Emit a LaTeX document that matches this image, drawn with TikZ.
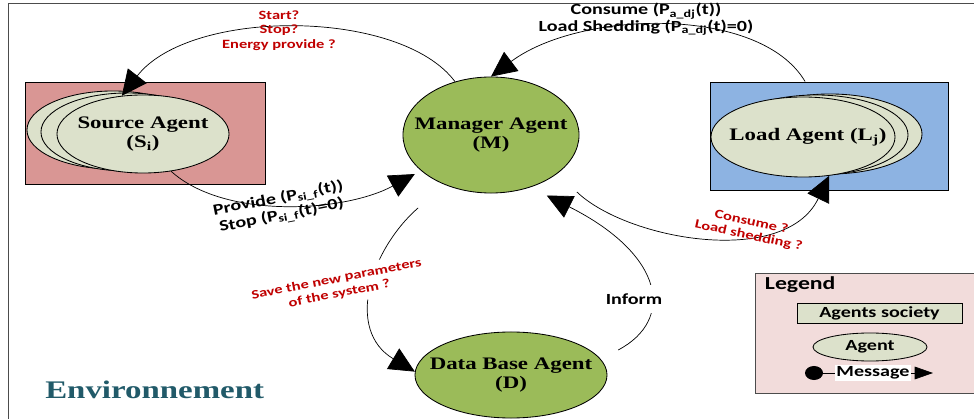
\documentclass[tikz,border=0pt]{standalone}
\usepackage{fontspec}
\setmainfont{Liberation Serif}
\newfontfamily\agentfont{Liberation Serif}[FakeStretch=1.3]
\newfontfamily\msgfont{Carlito}[FakeStretch=1.3]
\usepackage{tikz}
\usetikzlibrary{shapes.geometric,arrows.meta,positioning,calc}

\definecolor{sourcefill}{HTML}{D99694}
\definecolor{loadfill}{HTML}{8DB3E2}
\definecolor{agentfill}{HTML}{DCE1CB}
\definecolor{managerfill}{HTML}{9BBB59}
\definecolor{legendfill}{HTML}{F2DCDB}
\definecolor{askred}{HTML}{C00000}
\definecolor{envteal}{HTML}{215A69}

\begin{document}
\begin{tikzpicture}[x=0.025cm, y=-0.025cm,
    agent/.style={ellipse, draw, line width=0.6pt, fill=agentfill, inner sep=0pt},
    society/.style={rectangle, draw, line width=0.6pt, inner sep=0pt},
    agenttext/.style={font=\agentfont\bfseries\fontsize{12.5}{14}\selectfont, align=center},
    msg/.style={line width=0.5pt, -{Triangle[length=18pt,width=17pt]}},
    ask/.style={font=\msgfont\bfseries\fontsize{9}{10.3}\selectfont, text=askred, align=center, inner sep=1pt},
    reply/.style={font=\msgfont\bfseries\fontsize{11}{12.5}\selectfont, align=center, inner sep=1pt},
    legendtext/.style={font=\msgfont\bfseries\fontsize{11}{13}\selectfont}]
    \useasboundingbox (0,0) rectangle (974,419);

    % environment frame
    \draw[gray!60!black, line width=0.6pt] (8,419) -- (8,3) -- (974,3);
    \node[font=\agentfont\bfseries\fontsize{18}{20}\selectfont, text=envteal, anchor=west, inner sep=0pt] (env) at (45,390) {Environnement};

    % source agents society
    \node[society, fill=sourcefill, minimum width=6cm, minimum height=2.55cm] (SB) at (145,133) {};
    \node[agent, minimum width=4.3cm, minimum height=1.95cm] (S3) at (113,130) {};
    \node[agent, minimum width=4.3cm, minimum height=1.95cm] (S2) at (127,132) {};
    \node[agent, minimum width=4.3cm, minimum height=1.95cm] (S) at (143,134) {};
    \node[agenttext] (Stext) at (S) {Source Agent\\(S\textsubscript{i})};

    % manager agent
    \node[agent, fill=managerfill, minimum width=4.4cm, minimum height=2.9cm] (M) at (491,135) {};
    \node[agenttext] (Mtext) at (M) {Manager Agent\\(M)};

    % load agents society
    \node[society, fill=loadfill, minimum width=5.95cm, minimum height=2.7cm] (LB) at (829,136) {};
    \node[agent, minimum width=4.6cm, minimum height=2cm] (L3) at (830,134) {};
    \node[agent, minimum width=4.6cm, minimum height=2cm] (L2) at (816,135) {};
    \node[agent, minimum width=4.6cm, minimum height=2cm] (L) at (803,137) {};
    \node[agenttext] (Ltext) at (808,137) {Load Agent (L\textsubscript{j})};

    % data base agent
    \node[agent, fill=managerfill, minimum width=4.8cm, minimum height=2.15cm] (D) at (511,375) {};
    \node[agenttext] (Dtext) at (D) {Data Base Agent\\(D)};

    % manager <-> source
    \draw[msg] (M.124) .. controls (400,8) and (190,8) .. (S.119);
    \node[ask] (qS) at (279,30.5) {Start?\\Stop?\\Energy provide ?};
    \draw[msg, shorten >=5pt] (S.-53) .. controls (225,220) and (345,212) .. (M.207);
    \node[reply, rotate=11] (rS) at (280,207.5) {Provide (P\textsubscript{si\_f}(t))\\Stop (P\textsubscript{si\_f}(t)=0)};

    % manager <-> load
    \draw[msg] ($(LB.north west)!0.4!(LB.north east)$) .. controls (760,5) and (580,10) .. (M.north);
    \node[reply, font=\msgfont\bfseries\fontsize{11}{12}\selectfont] (rL) at (646,19.5) {Consume (P\textsubscript{a\_dj}(t))\\Load Shedding (P\textsubscript{a\_dj}(t)=0)};
    \draw[msg, shorten <=19pt] (M.-30) .. controls (627,240) and (785,268) .. (L.-56);
    \node[ask, font=\msgfont\bfseries\fontsize{9}{10}\selectfont, rotate=-12] (qL) at (750,229) {Consume ?\\Load shedding ?};

    % manager <-> data base
    \draw[msg, shorten <=25pt] (M.227) .. controls (370,250) and (345,330) .. (D.178);
    \node[ask, font=\msgfont\bfseries\fontsize{9}{10.6}\selectfont, rotate=11, fill=white, inner ysep=4pt] (qD) at (338,286.5) {Save the new parameters\\of the system ?};
    \draw[msg, shorten <=14pt, shorten >=13pt] (D.10) .. controls (675,320) and (665,255) .. (M.-53);
    \node[reply, fill=white, inner ysep=6pt] (rD) at (634,299) {Inform};

    % legend
    \node[society, draw=gray!60!black, fill=legendfill, minimum width=5.55cm, minimum height=3cm, anchor=north west] (LG) at (755,273) {};
    \node[legendtext, font=\msgfont\bfseries\fontsize{13}{15}\selectfont, anchor=west] (LGtitle) at (760,285) {Legend};
    \node[society, fill=agentfill, minimum width=4.125cm, minimum height=0.5cm, legendtext] (LS) at (879.5,313) {Agents society};
    \node[agent, minimum width=2.85cm, minimum height=0.7cm, legendtext] (LA) at (870,347) {Agent};
    \node[ellipse, fill=black, inner sep=0pt, minimum width=0.45cm, minimum height=0.35cm] (LD) at (814,373) {};
    \coordinate (LE) at (933,373);
    \draw[line width=0.5pt, -{Triangle[length=13pt,width=9pt]}] (LD) -- (LE);
    \node[legendtext, fill=white, inner sep=1pt] (LM) at (873,373) {Message};
\end{tikzpicture}
\end{document}
